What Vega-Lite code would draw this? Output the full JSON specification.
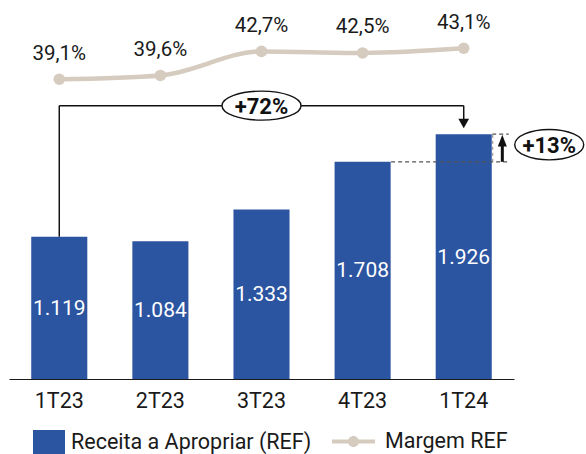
{
  "$schema": "https://vega.github.io/schema/vega-lite/v6.json",
  "width": 505,
  "height": 379,
  "autosize": "none",
  "padding": {"left": 9, "top": 0, "right": 72, "bottom": 75},
  "datasets": {
    "trimestres": [
      {"trimestre": "1T23", "receita": 1119, "margem": 0.391},
      {"trimestre": "2T23", "receita": 1084, "margem": 0.396},
      {"trimestre": "3T23", "receita": 1333, "margem": 0.427},
      {"trimestre": "4T23", "receita": 1708, "margem": 0.425},
      {"trimestre": "1T24", "receita": 1926, "margem": 0.431}
    ]
  },
  "data": {"name": "trimestres"},
  "encoding": {
    "x": {
      "field": "trimestre",
      "type": "nominal",
      "sort": null,
      "scale": {"domain": ["1T23", "2T23", "3T23", "4T23", "1T24"], "paddingInner": 0.4455, "paddingOuter": 0.22},
      "axis": {"title": null, "labelAngle": 0, "ticks": false, "tickSize": 0, "labelPadding": 11, "domainColor": "#1A1A1A", "domainWidth": 1, "grid": false}
    }
  },
  "layer": [
    {
      "layer": [
        {
          "mark": {"type": "bar"},
          "encoding": {
            "y": {"field": "receita", "type": "quantitative", "scale": {"domain": [0, 2981], "nice": false, "zero": true}, "axis": null},
            "fill": {
              "datum": "Receita a Apropriar (REF)",
              "type": "nominal",
              "scale": {"range": ["#2B54A1"]},
              "legend": {
                "orient": "none", "legendX": 24, "legendY": 427, "title": null,
                "symbolType": "M-1,-0.8125H1V0.8125H-1Z", "symbolSize": 1024,
                "symbolStrokeWidth": 0, "labelOffset": 6, "padding": 0, "labelLimit": 400
              }
            }
          }
        },
        {
          "transform": [{"calculate": "datum.receita / 2", "as": "meio"}],
          "mark": {"type": "text", "color": "#FFFFFF", "fontSize": 21, "font": "Roboto", "dy": 1},
          "encoding": {
            "y": {"field": "meio", "type": "quantitative", "axis": null},
            "text": {"field": "receita", "type": "quantitative", "format": ",.0f"}
          }
        },
        {
          "transform": [
            {
              "window": [
                {"op": "lead", "field": "trimestre", "as": "proximo"},
                {"op": "lead", "field": "receita", "as": "receita_prox"},
                {"op": "first_value", "field": "receita", "as": "primeiro_valor"},
                {"op": "last_value", "field": "receita", "as": "ultimo_valor"},
                {"op": "last_value", "field": "trimestre", "as": "ultimo_trim"}
              ],
              "frame": [null, null]
            },
            {"calculate": "format(datum.ultimo_valor / datum.primeiro_valor - 1, '+.0%')", "as": "var_ano"},
            {"calculate": "format(datum.receita_prox / datum.receita - 1, '+.0%')", "as": "var_tri"},
            {"calculate": "(datum.receita + datum.receita_prox) / 2", "as": "meio_tri"}
          ],
          "layer": [
            {
              "transform": [{"filter": "datum.trimestre === '1T23'"}],
              "layer": [
                {
                  "mark": {"type": "rule", "color": "#111111", "strokeWidth": 1.5},
                  "encoding": {
                    "y": {"field": "receita", "type": "quantitative", "axis": null},
                    "y2": {"datum": 2150}
                  }
                },
                {
                  "mark": {"type": "rule", "color": "#111111", "strokeWidth": 1.5},
                  "encoding": {
                    "x2": {"field": "ultimo_trim"},
                    "y": {"datum": 2150, "type": "quantitative", "axis": null}
                  }
                },
                {
                  "mark": {"type": "rule", "color": "#111111", "strokeWidth": 1.5, "yOffset": -15},
                  "encoding": {
                    "x": {"field": "ultimo_trim", "type": "nominal"},
                    "y": {"field": "ultimo_valor", "type": "quantitative", "axis": null},
                    "y2": {"datum": 2150}
                  }
                },
                {
                  "mark": {"type": "point", "shape": "M-1,-0.9L1,-0.9L0,0.9Z", "size": 114, "filled": true, "color": "#111111", "opacity": 1, "yOffset": -10.6},
                  "encoding": {
                    "x": {"field": "ultimo_trim", "type": "nominal"},
                    "y": {"field": "ultimo_valor", "type": "quantitative", "axis": null}
                  }
                }
              ]
            },
            {
              "transform": [{"filter": "datum.trimestre === '3T23'"}],
              "layer": [
                {
                  "mark": {"type": "point", "shape": "M-1,0A1,0.367 0 1 0 1,0A1,0.367 0 1 0 -1,0Z", "size": 6241, "filled": true, "fill": "#FFFFFF", "stroke": "#111111", "strokeWidth": 1.4, "opacity": 1},
                  "encoding": {
                    "y": {"datum": 2150, "type": "quantitative", "axis": null}
                  }
                },
                {
                  "mark": {"type": "text", "fontSize": 22, "font": "Roboto", "fontWeight": "bold", "color": "#111111", "baseline": "middle", "dy": 1},
                  "encoding": {
                    "y": {"datum": 2150, "type": "quantitative", "axis": null},
                    "text": {"field": "var_ano", "type": "nominal"}
                  }
                }
              ]
            },
            {
              "transform": [{"filter": "datum.trimestre === '4T23'"}],
              "layer": [
                {
                  "mark": {"type": "rule", "color": "#555555", "strokeWidth": 1.2, "strokeDash": [4, 3], "xOffset": 28.5, "x2Offset": 45},
                  "encoding": {
                    "x2": {"field": "proximo"},
                    "y": {"field": "receita", "type": "quantitative", "axis": null}
                  }
                },
                {
                  "mark": {"type": "rule", "color": "#555555", "strokeWidth": 1.2, "strokeDash": [4, 3], "xOffset": 28.5, "x2Offset": 45},
                  "encoding": {
                    "x": {"field": "proximo", "type": "nominal"},
                    "x2": {"field": "proximo"},
                    "y": {"field": "receita_prox", "type": "quantitative", "axis": null}
                  }
                },
                {
                  "mark": {"type": "rule", "color": "#888888", "strokeWidth": 1, "strokeDash": [3, 3], "xOffset": 29},
                  "encoding": {
                    "x": {"field": "proximo", "type": "nominal"},
                    "y": {"field": "receita", "type": "quantitative", "axis": null},
                    "y2": {"field": "receita_prox"}
                  }
                },
                {
                  "mark": {"type": "rule", "color": "#111111", "strokeWidth": 3, "xOffset": 38.6, "y2Offset": 11},
                  "encoding": {
                    "x": {"field": "proximo", "type": "nominal"},
                    "y": {"field": "receita", "type": "quantitative", "axis": null},
                    "y2": {"field": "receita_prox"}
                  }
                },
                {
                  "mark": {"type": "point", "shape": "M0,-1.3L1,1.3L-1,1.3Z", "size": 81, "filled": true, "color": "#111111", "opacity": 1, "xOffset": 38.6, "yOffset": 6.5},
                  "encoding": {
                    "x": {"field": "proximo", "type": "nominal"},
                    "y": {"field": "receita_prox", "type": "quantitative", "axis": null}
                  }
                },
                {
                  "mark": {"type": "point", "shape": "M-1,0A1,0.44 0 1 0 1,0A1,0.44 0 1 0 -1,0Z", "size": 4761, "filled": true, "fill": "#FFFFFF", "stroke": "#111111", "strokeWidth": 1.4, "opacity": 1, "xOffset": 85.5, "yOffset": -3.3},
                  "encoding": {
                    "x": {"field": "proximo", "type": "nominal"},
                    "y": {"field": "meio_tri", "type": "quantitative", "axis": null}
                  }
                },
                {
                  "mark": {"type": "text", "fontSize": 22, "font": "Roboto", "fontWeight": "bold", "color": "#111111", "baseline": "middle", "dy": 1, "xOffset": 85.5, "yOffset": -3.3},
                  "encoding": {
                    "x": {"field": "proximo", "type": "nominal"},
                    "y": {"field": "meio_tri", "type": "quantitative", "axis": null},
                    "text": {"field": "var_tri", "type": "nominal"}
                  }
                }
              ]
            }
          ]
        }
      ]
    },
    {
      "layer": [
        {
          "mark": {"type": "line", "interpolate": "monotone", "strokeWidth": 4.5},
          "encoding": {
            "y": {"field": "margem", "type": "quantitative", "scale": {"domain": [0.0043, 0.4933], "nice": false, "zero": false}, "axis": null},
            "stroke": {
              "datum": "Margem REF",
              "type": "nominal",
              "scale": {"range": ["#D5CBBF"]},
              "legend": {
                "orient": "none", "legendX": 323, "legendY": 420, "title": null,
                "symbolType": "M-1,-0.093H1V0.093H-1Z M0.256,0A0.256,0.256 0 1 1 -0.256,0A0.256,0.256 0 1 1 0.256,0Z",
                "symbolSize": 1849, "labelOffset": 10, "padding": 0, "labelLimit": 400,
                "symbolFillColor": "#D5CBBF", "symbolStrokeWidth": 0
              }
            }
          }
        },
        {
          "mark": {"type": "circle", "size": 133, "color": "#D5CBBF", "opacity": 1},
          "encoding": {
            "y": {"field": "margem", "type": "quantitative", "axis": null}
          }
        },
        {
          "mark": {"type": "text", "fontSize": 20.5, "font": "Roboto", "color": "#1A1A1A", "baseline": "alphabetic", "dy": -19.5},
          "encoding": {
            "y": {"field": "margem", "type": "quantitative", "axis": null},
            "text": {"field": "margem", "type": "quantitative", "format": ".1%"}
          }
        }
      ]
    }
  ],
  "resolve": {"scale": {"y": "independent"}},
  "config": {
    "view": {"stroke": null},
    "font": "Roboto",
    "locale": {"number": {"decimal": ",", "thousands": ".", "grouping": [3], "currency": ["R$", ""]}},
    "axis": {"labelFont": "Roboto", "labelFontSize": 21.5, "labelColor": "#1A1A1A"},
    "legend": {"labelFont": "Roboto", "labelFontSize": 21.5, "labelColor": "#1A1A1A", "labelBaseline": "middle"}
  }
}
